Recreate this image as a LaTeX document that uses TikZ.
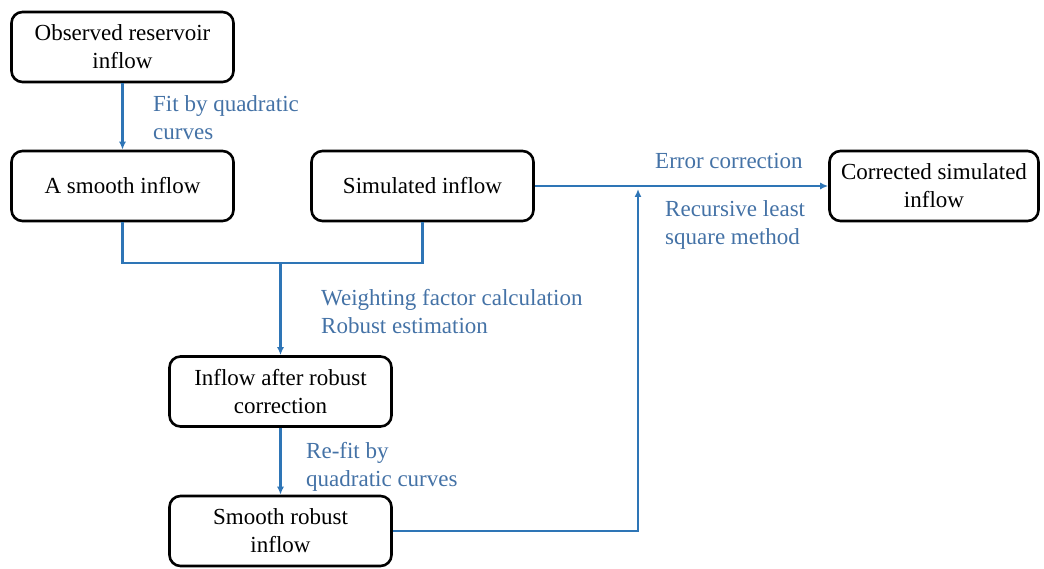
\documentclass[tikz,border=0pt]{standalone}
\usepackage{fontspec}
\setmainfont{Liberation Serif}
\usetikzlibrary{arrows.meta}
\definecolor{flowblue}{RGB}{46,117,182}
\definecolor{labelblue}{RGB}{68,114,166}
\begin{document}
\begin{tikzpicture}[x=1pt,y=-1pt,
  box/.style={draw,line width=2.6pt,rounded corners=11pt,minimum width=222pt,minimum height=70pt,
    align=center,inner sep=2pt,font=\rmfamily\fontsize{23}{28}\selectfont},
  flow/.style={draw=flowblue,line width=2.2pt},
  arr/.style={flow,-{Latex[length=8pt,width=7pt]}},
  lbl/.style={text=labelblue,align=left,inner sep=0pt,anchor=north west,font=\rmfamily\fontsize{23}{28}\selectfont}]
\useasboundingbox (0,0) rectangle (1044,569);
% boxes
\node[box] (obs) at (122.5,47) {Observed reservoir\\inflow};
\node[box] (smooth) at (122.5,186) {A smooth inflow};
\node[box] (sim) at (422.5,186) {Simulated inflow};
\node[box,minimum width=209pt] (corr) at (934,186) {Corrected simulated\\inflow};
\node[box] (robust) at (280.5,391.5) {Inflow after robust\\correction};
\node[box] (srobust) at (280.5,531) {Smooth robust\\inflow};
% connectors
\coordinate (join) at (280.5,263);
\coordinate (back) at (638,189);
\draw[arr] (obs) -- (smooth);
\draw[flow] (smooth.south) |- (join) -| (sim.south);
\draw[arr] (join) -- (robust.north);
\draw[arr] (robust) -- (srobust);
\draw[arr] (sim.east) -- (corr.west);
\draw[arr] (srobust.east) -| (back);
% labels
\node[lbl] (fit) at (153,95) {Fit by quadratic\\curves};
\node[lbl] (weight) at (321,289) {Weighting factor calculation\\Robust estimation};
\node[lbl] (refit) at (306,442) {Re-fit by\\quadratic curves};
\node[lbl] (err) at (655,153) {Error correction};
\node[lbl] (rls) at (665,200) {Recursive least\\square method};
\end{tikzpicture}
\end{document}
